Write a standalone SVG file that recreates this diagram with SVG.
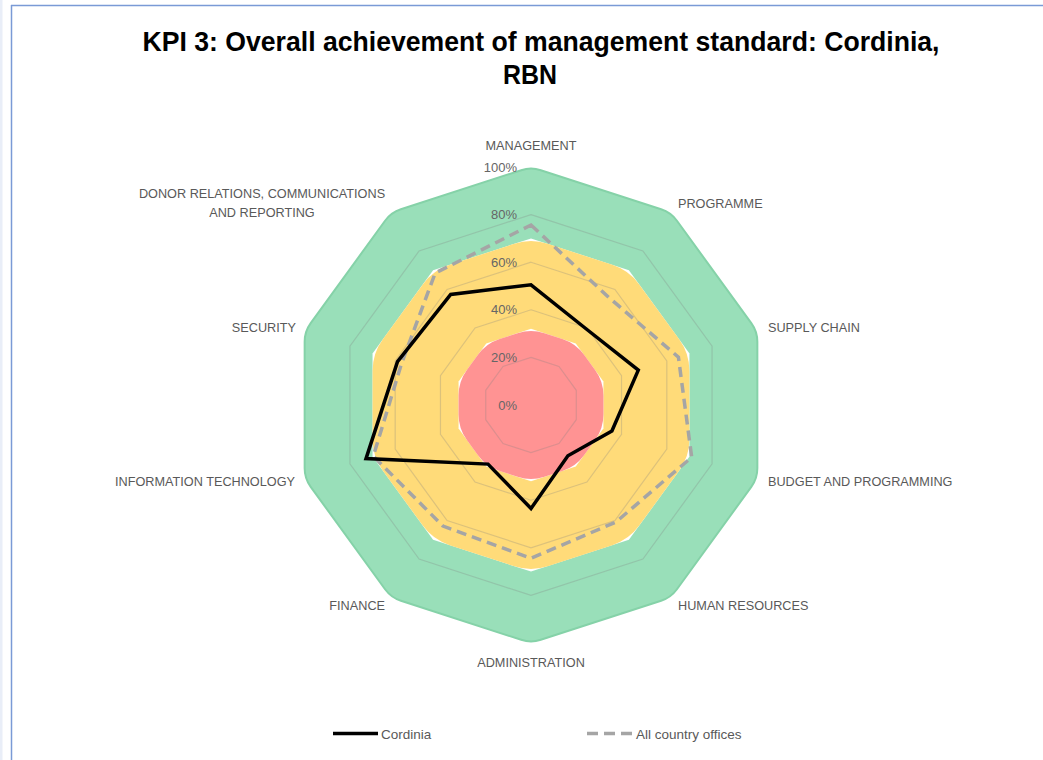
<svg xmlns="http://www.w3.org/2000/svg" width="1043" height="760" viewBox="0 0 1043 760">
<style>
.lbl{font-family:"Liberation Sans",Arial,sans-serif;font-size:12.7px;fill:#595959}
.pct{font-family:"Liberation Sans",Arial,sans-serif;font-size:13px;fill:#666666;text-anchor:end}
.mid{text-anchor:middle}
.end{text-anchor:end}
.grid{fill:none;stroke:#808080;stroke-opacity:0.28;stroke-width:1.2}
.title{font-family:"Liberation Sans",Arial,sans-serif;font-weight:bold;font-size:28px;fill:#000000;text-anchor:middle}
.cord{fill:none;stroke:#000000;stroke-width:3.5;stroke-linejoin:miter}
.all{fill:none;stroke:#A5A5A5;stroke-width:3.5;stroke-dasharray:10 6;stroke-linejoin:miter}
</style>
<rect x="0" y="0" width="1043" height="760" fill="#ffffff"/>
<g id="frame">
<rect x="0" y="0" width="2.5" height="760" fill="#E9EEF8"/>
<line x1="11" y1="5.5" x2="1043" y2="5.5" stroke="#7A9AD6" stroke-width="1.5"/>
<line x1="11.5" y1="5" x2="11.5" y2="760" stroke="#7A9AD6" stroke-width="1.5"/>
</g>
<g id="title">
<text class="title" x="541" y="51" textLength="797" lengthAdjust="spacingAndGlyphs">KPI 3: Overall achievement of management standard: Cordinia,</text>
<text class="title" x="530" y="84" textLength="54" lengthAdjust="spacingAndGlyphs">RBN</text>
</g>
<g id="bands" transform="translate(531 405)">
<path fill="#99DFB9" stroke="#85D2A8" stroke-width="2" d="M9.79,-234.82 L130.10,-195.73 Q139.89,-192.55 145.94,-184.22 L220.30,-81.88 Q226.35,-73.55 226.35,-63.25 L226.35,63.25 Q226.35,73.55 220.30,81.88 L145.94,184.22 Q139.89,192.55 130.10,195.73 L9.79,234.82 Q0,238 -9.79,234.82 L-130.10,195.73 Q-139.89,192.55 -145.94,184.22 L-220.30,81.88 Q-226.35,73.55 -226.35,63.25 L-226.35,-63.25 Q-226.35,-73.55 -220.30,-81.88 L-145.94,-184.22 Q-139.89,-192.55 -130.10,-195.73 L-9.79,-234.82 Q0,-238 9.79,-234.82 Z"/>
<polygon fill="#FFFFFF" points="0,-166.6 97.92,-134.79 158.45,-51.49 158.45,51.49 97.92,134.79 0,166.6 -97.92,134.79 -158.45,51.49 -158.45,-51.49 -97.92,-134.79"/>
<path fill="#FFDB79" transform="scale(0.7)" d="M23.78,-230.27 L116.11,-200.28 Q139.89,-192.55 154.59,-172.32 L211.65,-93.78 Q226.35,-73.55 226.35,-48.54 L226.35,48.54 Q226.35,73.55 211.65,93.78 L154.59,172.32 Q139.89,192.55 116.11,200.28 L23.78,230.27 Q0,238 -23.78,230.27 L-116.11,200.28 Q-139.89,192.55 -154.59,172.32 L-211.65,93.78 Q-226.35,73.55 -226.35,48.54 L-226.35,-48.54 Q-226.35,-73.55 -211.65,-93.78 L-154.59,-172.32 Q-139.89,-192.55 -116.11,-200.28 L-23.78,-230.27 Q0,-238 23.78,-230.27 Z"/>
<polygon fill="#FFFFFF" points="0,-76.16 44.76,-61.62 72.43,-23.54 72.43,23.54 44.76,61.62 0,76.16 -44.76,61.62 -72.43,23.54 -72.43,-23.54 -44.76,-61.62"/>
<path fill="#FF9393" transform="scale(0.32)" d="M41.97,-224.36 L97.92,-206.19 Q139.89,-192.55 165.83,-156.85 L200.41,-109.25 Q226.35,-73.55 226.35,-29.42 L226.35,29.42 Q226.35,73.55 200.41,109.25 L165.83,156.85 Q139.89,192.55 97.92,206.19 L41.97,224.36 Q0,238 -41.97,224.36 L-97.92,206.19 Q-139.89,192.55 -165.83,156.85 L-200.41,109.25 Q-226.35,73.55 -226.35,29.42 L-226.35,-29.42 Q-226.35,-73.55 -200.41,-109.25 L-165.83,-156.85 Q-139.89,-192.55 -97.92,-206.19 L-41.97,-224.36 Q0,-238 41.97,-224.36 Z"/>
</g>
<g id="gridlines" transform="translate(531 405)">
<polygon class="grid" points="0,-47.6 27.98,-38.51 45.27,-14.71 45.27,14.71 27.98,38.51 0,47.6 -27.98,38.51 -45.27,14.71 -45.27,-14.71 -27.98,-38.51"/>
<polygon class="grid" points="0,-95.2 55.96,-77.02 90.54,-29.42 90.54,29.42 55.96,77.02 0,95.2 -55.96,77.02 -90.54,29.42 -90.54,-29.42 -55.96,-77.02"/>
<polygon class="grid" points="0,-142.8 83.93,-115.53 135.81,-44.13 135.81,44.13 83.93,115.53 0,142.8 -83.93,115.53 -135.81,44.13 -135.81,-44.13 -83.93,-115.53"/>
<polygon class="grid" points="0,-190.4 111.91,-154.04 181.08,-58.84 181.08,58.84 111.91,154.04 0,190.4 -111.91,154.04 -181.08,58.84 -181.08,-58.84 -111.91,-154.04"/>
</g>
<g id="percent-labels">
<text class="pct" x="517" y="409.5">0%</text>
<text class="pct" x="517" y="362">20%</text>
<text class="pct" x="517" y="314.3">40%</text>
<text class="pct" x="517" y="266.7">60%</text>
<text class="pct" x="517" y="219.1">80%</text>
<text class="pct" x="517" y="171.5">100%</text>
</g>
<g id="series">
<polygon id="all-country-offices" class="all" points="531,225 609,297.6 678.4,357.1 691.7,457.2 616,522 531,558.3 443,526.1 373.3,456.2 401.7,363 435.2,273.1"/>
<polygon id="cordinia" class="cord" points="531,284.8 586.3,329 638.3,370.1 611.9,431 567.9,455.8 531,508.5 488,464.1 366,458.6 397.5,361.6 450.7,294.5"/>
</g>
<g id="axis-labels">
<text class="lbl mid" x="531" y="150">MANAGEMENT</text>
<text class="lbl" x="678" y="208">PROGRAMME</text>
<text class="lbl" x="768" y="332">SUPPLY CHAIN</text>
<text class="lbl" x="768" y="486">BUDGET AND PROGRAMMING</text>
<text class="lbl" x="678" y="610">HUMAN RESOURCES</text>
<text class="lbl mid" x="531" y="667">ADMINISTRATION</text>
<text class="lbl end" x="385" y="610">FINANCE</text>
<text class="lbl end" x="295" y="486">INFORMATION TECHNOLOGY</text>
<text class="lbl end" x="296" y="332">SECURITY</text>
<text class="lbl mid" x="262" y="198">DONOR RELATIONS, COMMUNICATIONS</text>
<text class="lbl mid" x="262" y="217">AND REPORTING</text>
</g>
<g id="legend">
<line x1="333" y1="733.5" x2="378" y2="733.5" stroke="#000000" stroke-width="3.5"/>
<text class="lbl" x="381" y="738.5" style="font-size:13.5px">Cordinia</text>
<line x1="587" y1="733.5" x2="632" y2="733.5" stroke="#A5A5A5" stroke-width="3.5" stroke-dasharray="11 6"/>
<text class="lbl" x="636" y="738.5" style="font-size:13.5px">All country offices</text>
</g>
</svg>
